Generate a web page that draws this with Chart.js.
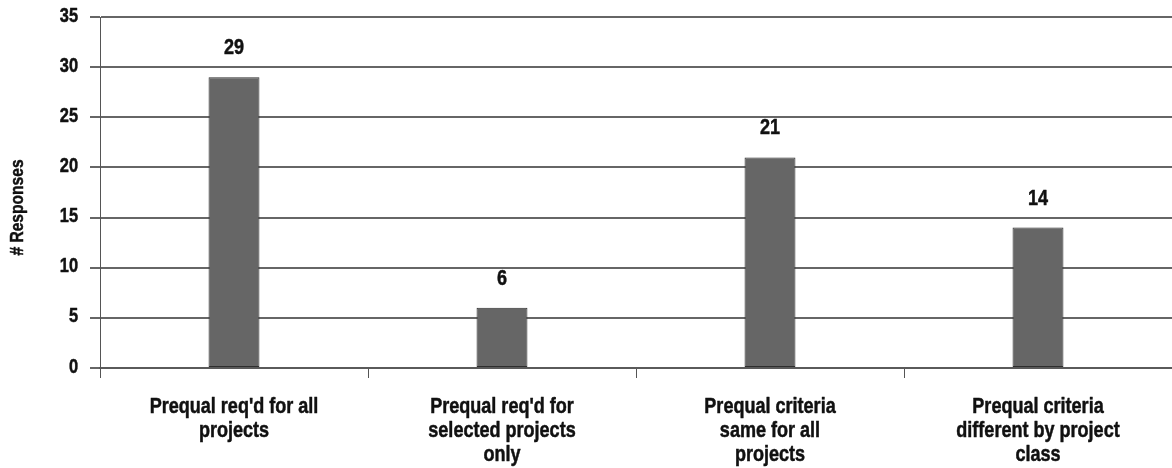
<!DOCTYPE html>
<html>
<head>
<meta charset="utf-8">
<script src="https://cdn.jsdelivr.net/npm/chart.js@4/dist/chart.umd.min.js"></script>
<style>
  html, body { margin: 0; padding: 0; background: #fff; }
  #wrap { width: 1172px; height: 468px; position: relative; }
</style>
</head>
<body>
<div id="wrap"><canvas id="c"></canvas></div>
<script>
// Survey responses on prequalification practice
const categories = [
  ["Prequal req'd for all", "projects"],
  ["Prequal req'd for", "selected projects", "only"],
  ["Prequal criteria", "same for all", "projects"],
  ["Prequal criteria", "different by project", "class"]
];
const responses = [29, 6, 21, 14];
const yTicks = [0, 5, 10, 15, 20, 25, 30, 35];
const yAxisTitle = "# Responses";

// Narrow bold face: Liberation Sans Bold squeezed horizontally
const FONT = "'Liberation Sans', Arial, sans-serif";
const SQUEEZE = 0.82;
const INK = '#111';

function narrowText(ctx, text, x, y, size, align, baseline) {
  ctx.save();
  ctx.font = 'bold ' + size + 'px ' + FONT;
  ctx.fillStyle = INK;
  ctx.strokeStyle = INK;
  ctx.lineWidth = 0.5;
  ctx.lineJoin = 'round';
  ctx.textAlign = align;
  ctx.textBaseline = baseline;
  ctx.translate(x, y);
  ctx.scale(SQUEEZE, 1);
  ctx.fillText(text, 0, 0);
  ctx.strokeText(text, 0, 0);
  ctx.restore();
}

// Axis labels, category labels, axis title and bar values
const textLayer = {
  id: 'textLayer',
  afterDraw(chart) {
    const ctx = chart.ctx;
    const xs = chart.scales.x;
    const ys = chart.scales.y;
    const area = chart.chartArea;

    // y tick labels
    yTicks.forEach(v => {
      narrowText(ctx, String(v), 78, ys.getPixelForValue(v) - 1, 20, 'right', 'middle');
    });

    // category labels (multi-line)
    categories.forEach((lines, i) => {
      const cx = xs.getPixelForValue(i);
      lines.forEach((line, k) => {
        narrowText(ctx, line, cx, area.bottom + 45 + k * 24, 22, 'center', 'alphabetic');
      });
    });

    // y axis title, rotated
    ctx.save();
    ctx.translate(18, (area.top + area.bottom) / 2 + 15);
    ctx.rotate(-Math.PI / 2);
    narrowText(ctx, yAxisTitle, 0, 0, 19, 'center', 'middle');
    ctx.restore();

    // values above bars
    const meta = chart.getDatasetMeta(0);
    meta.data.forEach((bar, i) => {
      narrowText(ctx, String(responses[i]), bar.x, bar.y - 23, 22, 'center', 'alphabetic');
    });
  }
};

new Chart(document.getElementById('c'), {
  type: 'bar',
  data: {
    labels: categories,
    datasets: [{
      data: responses,
      backgroundColor: '#666666',
      borderColor: '#2e2e2e',
      borderWidth: 1,
      borderSkipped: false,
      categoryPercentage: 1.0,
      barPercentage: 0.19
    }]
  },
  options: {
    responsive: true,
    maintainAspectRatio: false,
    animation: false,
    layout: { padding: { top: 17, right: 0, left: 0, bottom: 0 } },
    plugins: {
      legend: { display: false },
      tooltip: { enabled: false }
    },
    scales: {
      x: {
        offset: true,
        grid: {
          offset: true,
          drawOnChartArea: false,
          drawTicks: true,
          tickLength: 10,
          color: '#555',
          lineWidth: 1
        },
        border: { display: true, color: '#5a5a5a', width: 2 },
        ticks: { display: false, autoSkip: false },
        afterFit(scale) { scale.height = 100; }
      },
      y: {
        min: 0,
        max: 35,
        afterBuildTicks(scale) { scale.ticks = yTicks.map(v => ({ value: v })); },
        grid: {
          color: '#666',
          lineWidth: 2,
          tickLength: 10
        },
        border: { display: true, color: '#555', width: 1 },
        ticks: { display: false },
        afterFit(scale) { scale.width = 100; }
      }
    }
  },
  plugins: [textLayer]
});
</script>
</body>
</html>
